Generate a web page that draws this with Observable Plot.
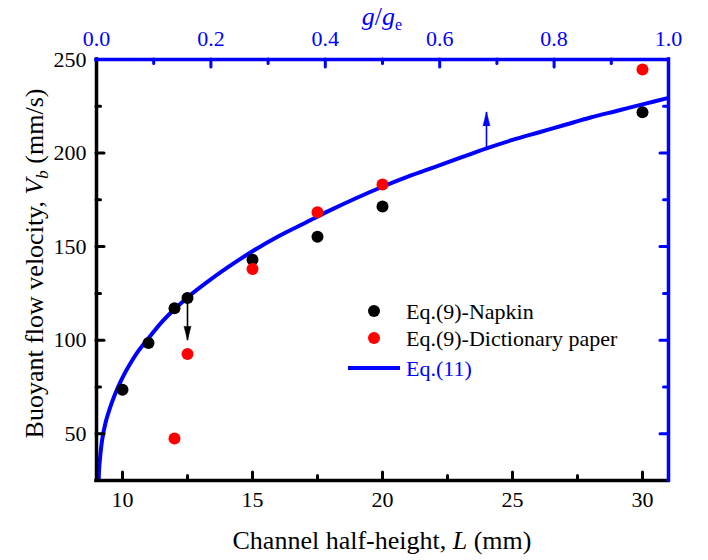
<!DOCTYPE html>
<html>
<head>
<meta charset="utf-8">
<script src="https://cdn.jsdelivr.net/npm/d3@7"></script>
<script src="https://cdn.jsdelivr.net/npm/@observablehq/plot@0.6"></script>
<style>
  body { margin: 0; background: #fff; }
</style>
</head>
<body>
<div id="chart"></div>
<script>
// Axis domains
const xDomain = [9, 31];      // channel half-height L (mm)
const yDomain = [25, 250];    // buoyant flow velocity Vb (mm/s)
const gDomain = [0, 1];       // g/ge on the top axis

// Tick values
const xMajor = [10, 15, 20, 25, 30];
const xMinor = [12.5, 17.5, 22.5, 27.5];
const yMajor = [50, 100, 150, 200, 250];
const yMinor = [75, 125, 175, 225];
const gMajor = [0, 0.2, 0.4, 0.6, 0.8, 1.0];
const gMinor = [0.1, 0.3, 0.5, 0.7, 0.9];

// Eq.(9) with napkin
const napkinL = [10, 11, 12, 12.5, 15, 17.5, 20, 30];
const napkinV = [73.5, 98.5, 117, 122.5, 143, 155.3, 171.4, 221.8];

// Eq.(9) with dictionary paper
const paperL = [12, 12.5, 15, 17.5, 20, 30];
const paperV = [47.5, 92.6, 138, 168.4, 183.2, 244.6];

// Eq.(11) curve
const eqL = [9.085, 9.1, 9.15, 9.22, 9.35, 9.6, 9.8, 10, 10.3, 10.6, 11, 11.5, 12, 12.6, 13.2, 14, 15, 16, 17, 18, 19, 20, 21, 22, 23, 24, 25, 26, 27, 28, 29, 30, 31];
const eqV = [25, 31, 39, 47, 56, 67, 74, 80, 87.5, 94, 101, 109.5, 116.5, 124, 130.5, 138.5, 147.5, 155.5, 162.5, 169.5, 176, 182, 187.5, 192.5, 197.5, 202.5, 207, 211, 215, 219, 222.5, 226, 229.5];

// Arrows: napkin point dropping to the paper value, and the curve rising toward higher g
const arrowL = [12.5, 24];
const arrowFrom = [122.5, 202.5];
const arrowTo = [100, 222];

const W = 708, H = 560;
const margin = {top: 59, right: 40, bottom: 80, left: 96};
const frameW = W - margin.left - margin.right;
const frameH = H - margin.top - margin.bottom;

const toRows = (xs, ys) => xs.map((L, i) => ({L, V: ys[i]}));
const napkin = toRows(napkinL, napkinV);
const paper = toRows(paperL, paperV);
const eq11 = toRows(eqL, eqV);
const arrows = arrowL.map((L, i) => ({L, from: arrowFrom[i], to: arrowTo[i]}));

// top axis shares the x range: g = 0 at the left edge, g = 1 at the right edge
const gToL = g => xDomain[0] + (g - gDomain[0]) / (gDomain[1] - gDomain[0]) * (xDomain[1] - xDomain[0]);
const LtoG = L => gDomain[0] + (L - xDomain[0]) / (xDomain[1] - xDomain[0]) * (gDomain[1] - gDomain[0]);

const BLUE = "#0000ff";
const RED = "#ff0000";
const FONT = "Liberation Serif";
const TICK_FS = 22, TITLE_FS = 26, LEGEND_FS = 22;
const majorLen = 8, minorLen = 4.5;

const plot = Plot.plot({
  width: W,
  height: H,
  marginTop: margin.top,
  marginRight: margin.right,
  marginBottom: margin.bottom,
  marginLeft: margin.left,
  x: {domain: xDomain},
  y: {domain: yDomain},
  style: `font-family: ${FONT}; font-size: ${TICK_FS}px; background: white; color: black;`,
  marks: [
    Plot.line(eq11, {x: "L", y: "V", stroke: BLUE, strokeWidth: 4, curve: "catmull-rom", clip: true}),
    Plot.dot(napkin, {x: "L", y: "V", r: 6, fill: "black"}),
    Plot.dot(paper, {x: "L", y: "V", r: 6, fill: RED}),

    // arrows
    Plot.link([arrows[0]], {x1: "L", x2: "L", y1: "from", y2: "to", stroke: "black", strokeWidth: 1.6}),
    Plot.vector([arrows[0]], {x: "L", y: "to", length: 14, rotate: 180, shape: "spike", anchor: "end", r: 3.5, fill: "black", stroke: "black", strokeWidth: 0.5}),
    Plot.link([arrows[1]], {x1: "L", x2: "L", y1: "from", y2: "to", stroke: BLUE, strokeWidth: 1.6}),
    Plot.vector([arrows[1]], {x: "L", y: "to", length: 14, rotate: 0, shape: "spike", anchor: "end", r: 3.5, fill: BLUE, stroke: BLUE, strokeWidth: 0.5}),

    // inward tick marks
    Plot.tickX(xMajor, {x: d => d, insetTop: frameH - majorLen, stroke: "black", strokeWidth: 3, strokeLinecap: "round"}),
    Plot.tickX(xMinor, {x: d => d, insetTop: frameH - minorLen, stroke: "black", strokeWidth: 3, strokeLinecap: "round"}),
    Plot.tickY(yMajor, {y: d => d, insetRight: frameW - majorLen, stroke: "black", strokeWidth: 3, strokeLinecap: "round"}),
    Plot.tickY(yMinor, {y: d => d, insetRight: frameW - minorLen, stroke: "black", strokeWidth: 3, strokeLinecap: "round"}),
    Plot.tickX(gMajor.map(gToL), {x: d => d, insetBottom: frameH - majorLen, stroke: BLUE, strokeWidth: 3, strokeLinecap: "round"}),
    Plot.tickX(gMinor.map(gToL), {x: d => d, insetBottom: frameH - minorLen, stroke: BLUE, strokeWidth: 3, strokeLinecap: "round"}),
    Plot.tickY(yMajor, {y: d => d, insetLeft: frameW - majorLen, stroke: BLUE, strokeWidth: 3, strokeLinecap: "round"}),
    Plot.tickY(yMinor, {y: d => d, insetLeft: frameW - minorLen, stroke: BLUE, strokeWidth: 3, strokeLinecap: "round"}),

    // frame: black left/bottom, blue top/right
    Plot.ruleX([xDomain[0]], {stroke: "black", strokeWidth: 3.5, strokeLinecap: "square"}),
    Plot.ruleY([yDomain[0]], {stroke: "black", strokeWidth: 3.5, strokeLinecap: "square"}),
    Plot.ruleY([yDomain[1]], {stroke: BLUE, strokeWidth: 3.5, strokeLinecap: "square"}),
    Plot.ruleX([xDomain[1]], {stroke: BLUE, strokeWidth: 3.5, strokeLinecap: "square"}),

    // tick labels
    Plot.axisX({anchor: "bottom", ticks: xMajor, tickSize: 0, tickPadding: 11, label: null, fontSize: TICK_FS, fontFamily: FONT}),
    Plot.axisY({anchor: "left", ticks: yMajor, tickSize: 0, tickPadding: 10, label: null, fontSize: TICK_FS, fontFamily: FONT}),
    Plot.axisX({anchor: "top", ticks: gMajor.map(gToL), tickFormat: L => LtoG(L).toFixed(1), tickSize: 0, tickPadding: 14, label: null, color: BLUE, fontSize: TICK_FS, fontFamily: FONT})
  ]
});

const svg = d3.select(plot);

// bottom axis title
const xt = svg.append("text")
  .attr("x", margin.left + frameW / 2).attr("y", 549)
  .attr("text-anchor", "middle")
  .attr("font-family", FONT).attr("font-size", TITLE_FS).attr("fill", "black");
xt.append("tspan").text("Channel half-height, ");
xt.append("tspan").attr("font-style", "italic").text("L");
xt.append("tspan").text(" (mm)");

// left axis title
const yt = svg.append("text")
  .attr("transform", `translate(43,${margin.top + frameH / 2 - 6}) rotate(-90)`)
  .attr("text-anchor", "middle")
  .attr("font-family", FONT).attr("font-size", TITLE_FS).attr("fill", "black");
yt.append("tspan").text("Buoyant flow velocity, ");
yt.append("tspan").attr("font-style", "italic").text("V");
yt.append("tspan").attr("font-style", "italic").attr("font-size", 17).attr("dy", 5).text("b");
yt.append("tspan").attr("dy", -5).text(" (mm/s)");

// top axis title
const tt = svg.append("text")
  .attr("x", margin.left + frameW / 2).attr("y", 25)
  .attr("text-anchor", "middle")
  .attr("font-family", FONT).attr("font-size", TITLE_FS).attr("fill", BLUE);
tt.append("tspan").attr("font-style", "italic").text("g");
tt.append("tspan").text("/");
tt.append("tspan").attr("font-style", "italic").text("g");
tt.append("tspan").attr("font-size", 16).attr("dy", 5).text("e");

// legend
const lg = svg.append("g").attr("font-family", FONT).attr("font-size", LEGEND_FS).attr("text-anchor", "start");
lg.append("circle").attr("cx", 374).attr("cy", 311).attr("r", 6).attr("fill", "black");
lg.append("circle").attr("cx", 374).attr("cy", 338).attr("r", 6).attr("fill", RED);
lg.append("line").attr("x1", 348).attr("x2", 400).attr("y1", 368).attr("y2", 368)
  .attr("stroke", BLUE).attr("stroke-width", 4);
lg.append("text").attr("x", 406).attr("y", 311).attr("dy", "0.35em").attr("fill", "black").text("Eq.(9)-Napkin");
lg.append("text").attr("x", 406).attr("y", 338).attr("dy", "0.35em").attr("fill", "black").text("Eq.(9)-Dictionary paper");
lg.append("text").attr("x", 406).attr("y", 368).attr("dy", "0.35em").attr("fill", BLUE).text("Eq.(11)");

document.getElementById("chart").appendChild(plot);
</script>
</body>
</html>
